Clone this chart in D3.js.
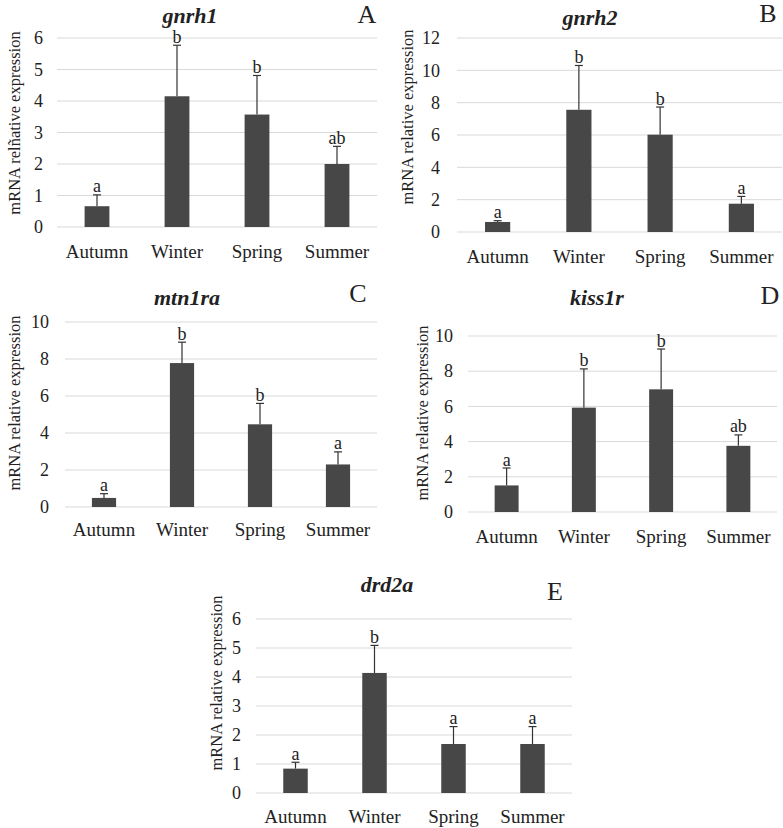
<!DOCTYPE html>
<html>
<head>
<meta charset="utf-8">
<script src="https://cdn.jsdelivr.net/npm/d3@7"></script>
<style>
  body { margin: 0; background: #fff; }
</style>
</head>
<body>
<div id="chart"></div>
<script>

//////// DATA ////////
var seasons = ["Autumn", "Winter", "Spring", "Summer"];

var gnrh1Mean = [0.66, 4.15, 3.57, 2.00];
var gnrh1Se   = [0.36, 1.62, 1.24, 0.56];
var gnrh1Sig  = ["a", "b", "b", "ab"];

var gnrh2Mean = [0.62, 7.56, 6.02, 1.75];
var gnrh2Se   = [0.08, 2.74, 1.71, 0.45];
var gnrh2Sig  = ["a", "b", "b", "a"];

var mtn1raMean = [0.49, 7.78, 4.47, 2.30];
var mtn1raSe   = [0.23, 1.13, 1.13, 0.68];
var mtn1raSig  = ["a", "b", "b", "a"];

var kiss1rMean = [1.51, 5.93, 6.97, 3.76];
var kiss1rSe   = [0.99, 2.20, 2.29, 0.62];
var kiss1rSig  = ["a", "b", "b", "ab"];

var drd2aMean = [0.84, 4.14, 1.69, 1.69];
var drd2aSe   = [0.22, 0.95, 0.60, 0.60];
var drd2aSig  = ["a", "b", "a", "a"];

var ticks6  = [0, 1, 2, 3, 4, 5, 6];
var ticks10 = [0, 2, 4, 6, 8, 10];
var ticks12 = [0, 2, 4, 6, 8, 10, 12];

//////// PANEL LAYOUT ////////
var panels = [
	{ gene: "gnrh1", tag: "A", mean: gnrh1Mean, se: gnrh1Se, sig: gnrh1Sig, ticks: ticks6, max: 6,
	  x0: 57, x1: 377, y0: 227, y1: 38, tx: 190, ty: 23, lx: 367, ly: 23, ax: 15, ay: 123, tr: 43, cy: 258,
	  yTitle: "mRNA relñative expression" },
	{ gene: "gnrh2", tag: "B", mean: gnrh2Mean, se: gnrh2Se, sig: gnrh2Sig, ticks: ticks12, max: 12,
	  x0: 457, x1: 782, y0: 232, y1: 38, tx: 590, ty: 25, lx: 768, ly: 22, ax: 408, ay: 117, tr: 440, cy: 263,
	  yTitle: "mRNA relative expression" },
	{ gene: "mtn1ra", tag: "C", mean: mtn1raMean, se: mtn1raSe, sig: mtn1raSig, ticks: ticks10, max: 10,
	  x0: 65, x1: 377, y0: 507, y1: 322, tx: 187, ty: 305, lx: 358, ly: 302, ax: 15, ay: 403, tr: 49, cy: 536,
	  yTitle: "mRNA relative expression" },
	{ gene: "kiss1r", tag: "D", mean: kiss1rMean, se: kiss1rSe, sig: kiss1rSig, ticks: ticks10, max: 10,
	  x0: 468, x1: 777, y0: 512, y1: 336, tx: 597, ty: 305, lx: 770, ly: 304, ax: 423, ay: 413, tr: 453, cy: 543,
	  yTitle: "mRNA relative expression" },
	{ gene: "drd2a", tag: "E", mean: drd2aMean, se: drd2aSe, sig: drd2aSig, ticks: ticks6, max: 6,
	  x0: 256, x1: 572, y0: 793, y1: 619, tx: 387, ty: 592, lx: 555, ly: 600, ax: 217, ay: 683, tr: 241, cy: 823,
	  yTitle: "mRNA relative expression" }
];

var width = 783, height = 828;
var serif = "'Liberation Serif', 'Times New Roman', serif";

var svg = d3.select("#chart").append("svg")
	.attr("width", width)
	.attr("height", height);

panels.forEach(function(p) {

	var g = svg.append("g").attr("class", "panel");

	// Scales
	var x = d3.scaleBand()
		.domain(seasons)
		.range([p.x0, p.x1])
		.paddingInner(0.69)
		.paddingOuter(0.345);

	var y = d3.scaleLinear()
		.domain([0, p.max])
		.range([p.y0, p.y1]);

	// Gridlines
	g.selectAll(".grid").data(p.ticks).enter().append("line")
		.attr("x1", p.x0).attr("x2", p.x1)
		.attr("y1", function(d) { return y(d); })
		.attr("y2", function(d) { return y(d); })
		.attr("stroke", "#d9d9d9")
		.attr("stroke-width", 1);

	// Y tick labels
	var yAxis = d3.axisLeft(y).tickValues(p.ticks).tickFormat(d3.format("d"))
		.tickSize(0).tickPadding(0);
	var ya = g.append("g")
		.attr("transform", "translate(" + p.tr + ",0)")
		.call(yAxis)
		.attr("font-family", serif)
		.attr("font-size", 18);
	ya.select(".domain").remove();
	ya.selectAll("text").attr("fill", "#222");

	// X category labels
	var xAxis = d3.axisBottom(x).tickSize(0).tickPadding(0);
	var xa = g.append("g")
		.attr("transform", "translate(0," + p.cy + ")")
		.call(xAxis)
		.attr("font-family", serif)
		.attr("font-size", 19);
	xa.select(".domain").remove();
	xa.selectAll("text").attr("dy", 0).attr("fill", "#222");

	var rows = seasons.map(function(s, i) {
		return { cat: s, mean: p.mean[i], se: p.se[i], sig: p.sig[i] };
	});

	// Error bars (upper only)
	g.selectAll(".err").data(rows).enter().append("line")
		.attr("x1", function(d) { return x(d.cat) + x.bandwidth()/2; })
		.attr("x2", function(d) { return x(d.cat) + x.bandwidth()/2; })
		.attr("y1", function(d) { return y(d.mean); })
		.attr("y2", function(d) { return y(d.mean + d.se); })
		.attr("stroke", "#333")
		.attr("stroke-width", 1.2);

	g.selectAll(".cap").data(rows).enter().append("line")
		.attr("x1", function(d) { return x(d.cat) + x.bandwidth()/2 - 4; })
		.attr("x2", function(d) { return x(d.cat) + x.bandwidth()/2 + 4; })
		.attr("y1", function(d) { return y(d.mean + d.se); })
		.attr("y2", function(d) { return y(d.mean + d.se); })
		.attr("stroke", "#333")
		.attr("stroke-width", 1.2);

	// Bars
	g.selectAll(".bar").data(rows).enter().append("rect")
		.attr("x", function(d) { return x(d.cat); })
		.attr("width", x.bandwidth())
		.attr("y", function(d) { return y(d.mean); })
		.attr("height", function(d) { return y(0) - y(d.mean); })
		.attr("fill", "#474747");

	// Significance letters
	g.selectAll(".sig").data(rows).enter().append("text")
		.attr("x", function(d) { return x(d.cat) + x.bandwidth()/2; })
		.attr("y", function(d) { return y(d.mean + d.se) - 2.5; })
		.attr("text-anchor", "middle")
		.attr("font-family", serif)
		.attr("font-size", 18)
		.attr("fill", "#222")
		.text(function(d) { return d.sig; });

	// Gene title
	g.append("text")
		.attr("x", p.tx).attr("y", p.ty)
		.attr("text-anchor", "middle")
		.attr("font-family", serif)
		.attr("font-size", 22)
		.attr("font-weight", "bold")
		.attr("font-style", "italic")
		.attr("fill", "#222")
		.text(p.gene);

	// Panel letter
	g.append("text")
		.attr("x", p.lx).attr("y", p.ly)
		.attr("text-anchor", "middle")
		.attr("font-family", serif)
		.attr("font-size", 26)
		.attr("fill", "#222")
		.text(p.tag);

	// Y axis title
	g.append("text")
		.attr("transform", "translate(" + (p.ax + 5) + "," + p.ay + ") rotate(-90)")
		.attr("text-anchor", "middle")
		.attr("font-family", serif)
		.attr("font-size", 16.5)
		.attr("fill", "#222")
		.text(p.yTitle);
});

</script>
</body>
</html>
